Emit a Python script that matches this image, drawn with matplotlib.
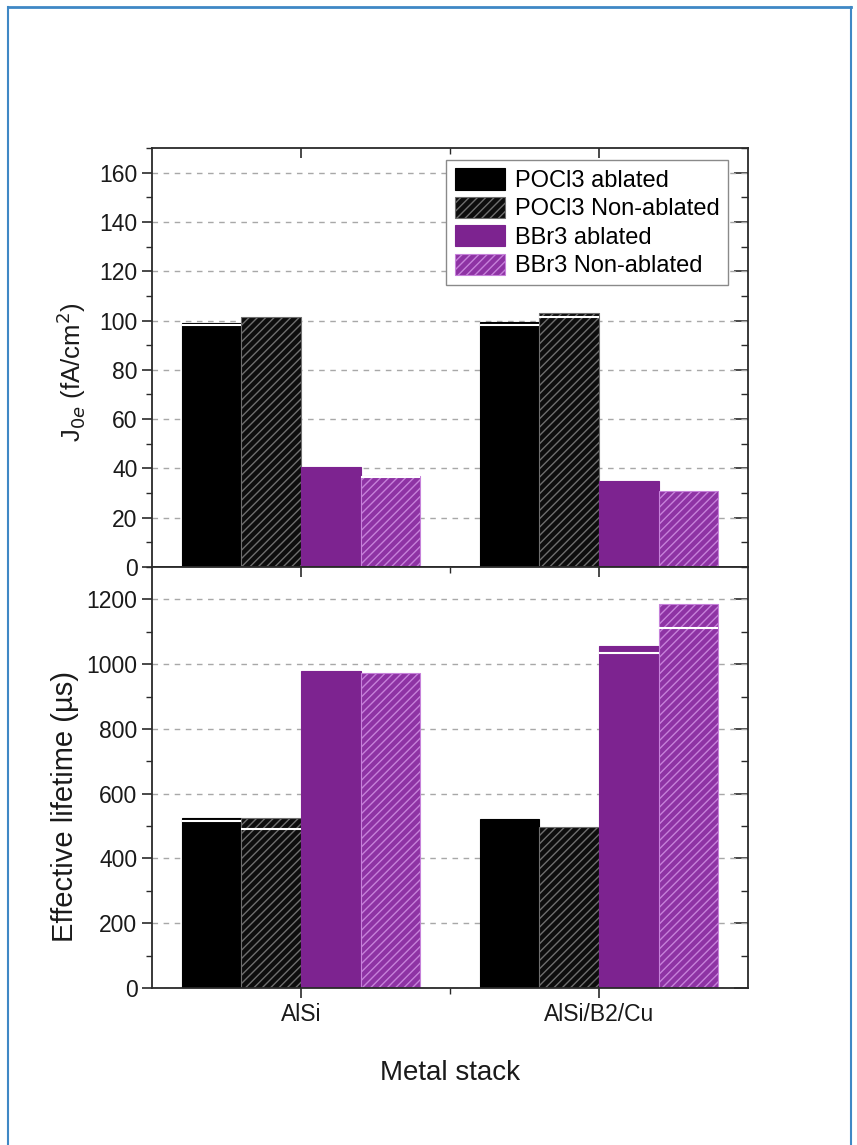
import numpy as np
import matplotlib
matplotlib.use("Agg")
import matplotlib.pyplot as plt
from matplotlib.lines import Line2D
from matplotlib.ticker import MultipleLocator, FixedLocator

plt.rcParams['font.family'] = ['Liberation Sans', 'DejaVu Sans']
plt.rcParams['hatch.linewidth'] = 1.0

# ---------------- data ----------------
categories = ["AlSi", "AlSi/B2/Cu"]
series = ["POCl3 ablated", "POCl3 Non-ablated", "BBr3 ablated", "BBr3 Non-ablated"]

j0e_pocl3_abl = [99.0, 99.6]
j0e_pocl3_non = [101.6, 102.9]
j0e_bbr3_abl = [40.7, 35.0]
j0e_bbr3_non = [37.0, 30.7]
j0e_pocl3_abl_err = [0.8, 1.6]
j0e_pocl3_non_err = [0.0, 1.6]
j0e_bbr3_abl_err = [0.0, 0.0]
j0e_bbr3_non_err = [0.6, 0.0]

tau_pocl3_abl = [526, 523]
tau_pocl3_non = [526, 497]
tau_bbr3_abl = [978, 1055]
tau_bbr3_non = [973, 1185]
tau_pocl3_abl_err = [10, 0]
tau_pocl3_non_err = [34, 0]
tau_bbr3_abl_err = [0, 20]
tau_bbr3_non_err = [0, 73]

j0e_ticks = [0, 20, 40, 60, 80, 100, 120, 140, 160]
tau_ticks = [0, 200, 400, 600, 800, 1000, 1200]

# ---------------- styles ----------------
black = "#000000"
purple = "#7d2390"
purple_h = "#8e33a4"
styles = [
    dict(facecolor=black, edgecolor=black, hatch=None),
    dict(facecolor="#0d0d0d", edgecolor="#6e6e6e", hatch="////"),
    dict(facecolor=purple, edgecolor=purple, hatch=None),
    dict(facecolor=purple_h, edgecolor="#c681da", hatch="////"),
]

W, H = 857, 1145
fig = plt.figure(figsize=(W / 100, H / 100), dpi=100)
fig.patch.set_facecolor("white")

left = 152 / W
right = 748 / W
y_top = 1 - 148 / H
y_mid = 1 - 567 / H
y_bot = 1 - 988 / H

ax1 = fig.add_axes([left, y_mid, right - left, y_top - y_mid])
ax2 = fig.add_axes([left, y_bot, right - left, y_mid - y_bot], sharex=ax1)

x = np.arange(1, len(categories) + 1)
bw = 0.2
offsets = [-1.5 * bw, -0.5 * bw, 0.5 * bw, 1.5 * bw]


def draw(ax, vals_list, errs_list):
    handles = []
    for vals, errs, off, st, lab in zip(vals_list, errs_list, offsets, styles, series):
        b = ax.bar(x + off, vals, width=bw, facecolor=st["facecolor"],
                   edgecolor=st["edgecolor"], hatch=st["hatch"], linewidth=0.8,
                   label=lab, zorder=2)
        handles.append(b)
        vals = np.asarray(vals, float)
        errs = np.asarray(errs, float)
        m = errs > 0
        if m.any():
            ax.hlines(vals[m] - errs[m], (x + off)[m] - bw / 2, (x + off)[m] + bw / 2,
                      colors="white", linewidth=1.5, zorder=3)
    return handles


h = draw(ax1, [j0e_pocl3_abl, j0e_pocl3_non, j0e_bbr3_abl, j0e_bbr3_non],
         [j0e_pocl3_abl_err, j0e_pocl3_non_err, j0e_bbr3_abl_err, j0e_bbr3_non_err])
draw(ax2, [tau_pocl3_abl, tau_pocl3_non, tau_bbr3_abl, tau_bbr3_non],
     [tau_pocl3_abl_err, tau_pocl3_non_err, tau_bbr3_abl_err, tau_bbr3_non_err])

ax1.set_xlim(0.5, 2.5)
ax1.set_ylim(0, 170)
ax2.set_ylim(0, 1300)

ax1.yaxis.set_major_locator(FixedLocator(j0e_ticks))
ax1.yaxis.set_minor_locator(MultipleLocator(10))
ax2.yaxis.set_major_locator(FixedLocator(tau_ticks))
ax2.yaxis.set_minor_locator(MultipleLocator(100))
ax2.set_xticks(x)
ax2.set_xticklabels(categories)
ax2.xaxis.set_minor_locator(FixedLocator([1.5]))

spine_c = "#2a2a2a"
for ax in (ax1, ax2):
    ax.set_facecolor("white")
    for s in ax.spines.values():
        s.set_color(spine_c)
        s.set_linewidth(1.3)
    ax.grid(axis="y", which="major", linestyle=(0, (4, 4)), color="#a8a8a8",
            linewidth=1.0, zorder=0)
    ax.set_axisbelow(True)
    ax.tick_params(axis="both", which="both", color=spine_c, labelcolor="#1a1a1a",
                   labelsize=16.5)
    ax.tick_params(axis="y", which="major", direction="out", length=7, width=1.2,
                   left=True, right=False)
    ax.tick_params(axis="y", which="minor", direction="out", length=4, width=1.0,
                   left=True, right=False)
    ax.tick_params(axis="x", which="major", direction="out", length=7, width=1.2,
                   top=False)
    ax.tick_params(axis="x", which="minor", direction="out", length=4, width=1.0,
                   top=False)
    # inward ticks on right and top
    sec = ax.secondary_yaxis("right")
    sec.yaxis.set_major_locator(ax.yaxis.get_major_locator())
    sec.yaxis.set_minor_locator(ax.yaxis.get_minor_locator())
    sec.tick_params(which="major", direction="in", length=10, width=1.2, color=spine_c,
                    labelright=False)
    sec.tick_params(which="minor", direction="in", length=5, width=1.0, color=spine_c)
    sec.spines["right"].set_visible(False)
    secx = ax.secondary_xaxis("top")
    secx.xaxis.set_major_locator(FixedLocator(list(x)))
    secx.xaxis.set_minor_locator(FixedLocator([1.5]))
    secx.tick_params(which="major", direction="in", length=7, width=1.2, color=spine_c,
                     labeltop=False)
    secx.tick_params(which="minor", direction="in", length=4, width=1.0, color=spine_c)
    secx.spines["top"].set_visible(False)

ax1.tick_params(axis="x", which="both", labelbottom=False)

ax1.set_ylabel(r"J$_{0e}$ (fA/cm$^{2}$)", fontsize=18.5, color="#1a1a1a")
ax2.set_ylabel("Effective lifetime (\u00b5s)", fontsize=21, color="#1a1a1a")
ax2.set_xlabel("Metal stack", fontsize=20, color="#1a1a1a")
ax1.yaxis.set_label_coords(-0.108, 0.464)
ax2.yaxis.set_label_coords(-0.122, 0.43)
ax2.xaxis.set_label_coords(0.5, -0.172)

leg = ax1.legend(handles=h, loc="upper right", bbox_to_anchor=(0.966, 0.971),
                 fontsize=17, frameon=True, fancybox=False, framealpha=1,
                 edgecolor="#8a8a8a", handlelength=2.15, handleheight=1.0,
                 handletextpad=0.4, labelspacing=0.2, borderpad=0.35,
                 borderaxespad=0.0)
leg.get_frame().set_linewidth(1.0)
leg.set_zorder(5)

# figure border (blue)
bc = "#3f88c5"
fig.add_artist(Line2D([8 / W, 851 / W], [1 - 7 / H, 1 - 7 / H], transform=fig.transFigure,
                      color=bc, linewidth=2))
fig.add_artist(Line2D([8 / W, 8 / W], [0, 1 - 7 / H], transform=fig.transFigure,
                      color=bc, linewidth=1.5))
fig.add_artist(Line2D([851 / W, 851 / W], [0, 1 - 7 / H], transform=fig.transFigure,
                      color=bc, linewidth=1.5))

fig.savefig("out.png", dpi=100, facecolor="white")
